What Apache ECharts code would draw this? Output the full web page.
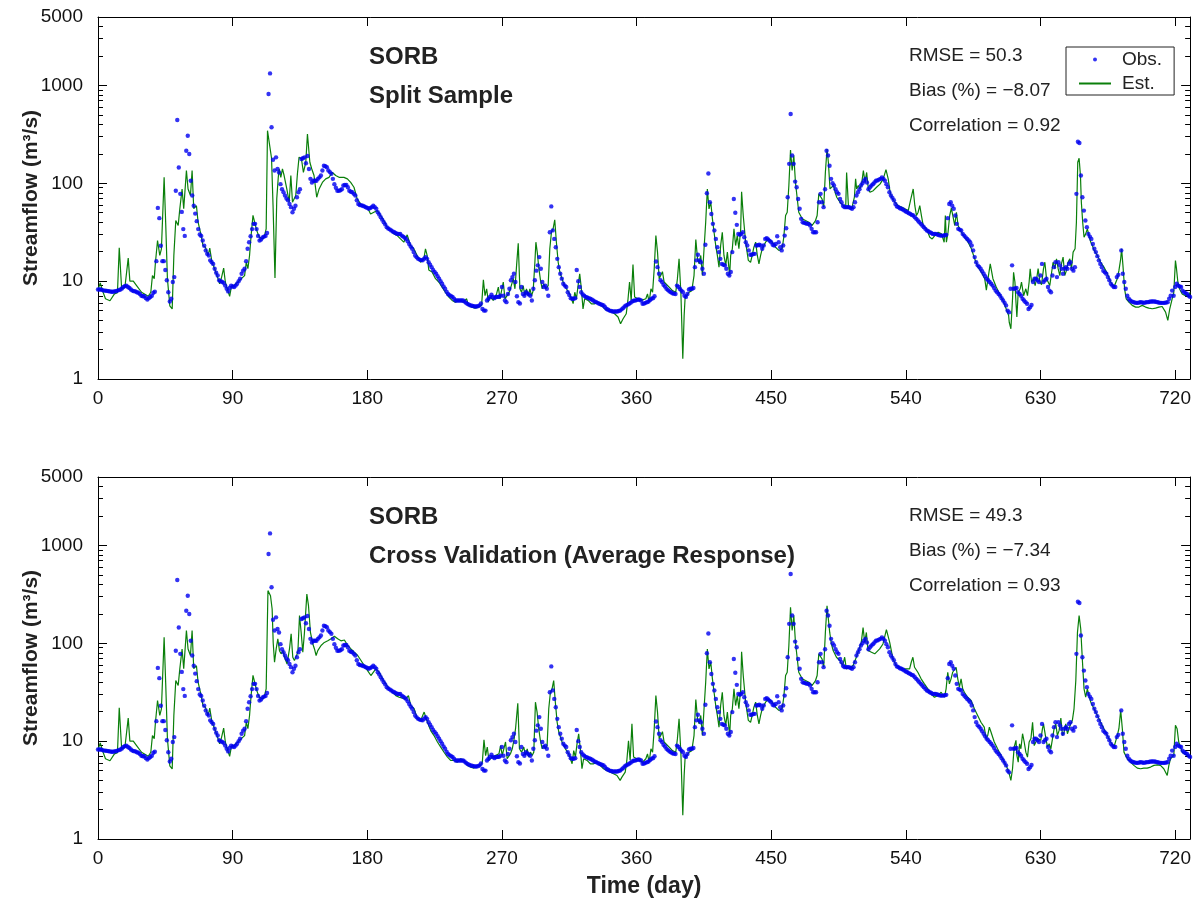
<!DOCTYPE html>
<html>
<head>
<meta charset="utf-8">
<script src="https://cdn.jsdelivr.net/npm/echarts@6/dist/echarts.min.js"></script>
<style>html,body{margin:0;padding:0;background:#fff}#chart{width:1194px;height:904px}</style>
</head>
<body>
<div id="chart"></div>
<script>
// ---- tick labels ----
const xTicks = [0, 90, 180, 270, 360, 450, 540, 630, 720];
const yMajor = [1, 10, 100, 1000];
const yLabels = [1, 10, 100, 1000, 5000];
const yMinor = [2,3,4,5,6,7,8,9,20,30,40,50,60,70,80,90,200,300,400,500,600,700,800,900,2000,3000,4000];

// ---- observed streamflow (day, m3/s) ----
const observed = [[0,8.2],[1,8.2],[2,8.2],[3,8.1],[4,8.0],[5,8.0],[6,7.95],[7,7.9],[8,7.85],[9,7.8],[10,7.8],[11,7.85],[12,7.9],[13,8.0],[14,8.1],[15,8.2],[16,8.4],[17,8.7],[18,8.9],[19,9.0],[20,8.7],[21,8.5],[22,8.2],[23,8.0],[24,7.9],[25,7.85],[26,7.7],[27,7.6],[28,7.4],[29,7.1],[30,7.0],[31,7.0],[32,6.7],[33,6.5],[34,6.7],[35,6.9],[36,7.1],[37,7.6],[38,7.8],[39,16],[40,56],[41,44],[42,23],[43,16],[44,16],[45,13],[46,10.2],[47,7.7],[48,6.2],[49,6.6],[50,9.8],[51,11],[52,84],[53,443],[54,145],[55,78],[56,51],[57,34],[58,29],[59,215],[60,306],[61,199],[62,106],[63,75],[64,59],[65,49],[66,41],[67,34],[68,30],[69,29],[70,26],[71,23],[72,20.6],[73,19],[74,18.3],[75,16.3],[76,15.6],[77,15],[78,13.4],[79,12.2],[80,11.4],[81,10.2],[82,10],[83,9.8],[84,9.6],[85,9],[86,8.35],[87,7.85],[88,8.5],[89,9.0],[90,8.8],[91,8.7],[92,9.0],[93,9.4],[94,10],[95,10.6],[96,11.9],[97,12.8],[98,13.4],[99,16],[100,21.4],[101,25],[102,28.8],[103,34],[104,38.5],[105,38.5],[106,34],[107,29],[108,26],[109,26.6],[110,28],[111,28.5],[112,29],[113,31],[114,816],[115,1326],[116,373],[117,174],[118,135],[119,184],[120,140],[121,129],[122,98],[123,87],[124,81],[125,75],[126,70],[127,67],[128,61.5],[129,57],[130,50.6],[131,55],[132,59],[133,72],[134,81],[135,87],[136,177],[137,180],[138,184],[139,160],[140,190],[141,140],[142,111],[143,102],[144,106],[145,106],[146,106],[147,111],[148,115],[149,120],[150,135],[151,151],[152,149],[153,146],[154,135],[155,130],[156,125],[157,111],[158,98],[159,90],[160,84],[161,84],[162,85],[163,87],[164,95],[165,96],[166,96],[167,91],[168,84],[169,82],[170,81],[171,78],[172,75],[173,67],[174,61.5],[175,60],[176,59.5],[177,59],[178,58],[179,57],[180,56],[181,55],[182,56],[183,57],[184,59],[185,57],[186,55],[187,50.6],[188,48],[189,45],[190,42.5],[191,40],[192,38],[193,35.6],[194,34.5],[195,33.8],[196,33],[197,32.2],[198,31.6],[199,31],[200,30.4],[201,30.4],[202,30.4],[203,29.2],[204,28.5],[205,27.8],[206,27],[207,25.5],[208,24],[209,22.6],[210,21.4],[211,19.8],[212,18.3],[213,17.5],[214,16.9],[215,16.6],[216,16.4],[217,16.3],[218,17],[219,17.6],[220,16.9],[221,15.6],[222,14.7],[223,13.9],[224,13],[225,12.4],[226,11.9],[227,11.2],[228,10.6],[229,10],[230,9.4],[231,8.8],[232,8.35],[233,7.8],[234,7.4],[235,7.2],[236,7.0],[237,6.9],[238,6.6],[239,6.35],[240,6.35],[241,6.35],
[242,6.35],[243,6.35],[244,6.35],[245,6.2],[246,6.0],[247,5.85],[248,5.75],[249,5.65],[250,5.6],[251,5.56],[252,5.5],[253,5.5],[254,5.55],[255,5.65],[256,5.9],[257,5.2],[258,5.0],[259,5.0],[260,6.35],[261,6.6],[262,6.9],[263,7.25],[264,6.9],[265,6.7],[266,6.9],[267,6.9],[268,6.9],[269,7.1],[270,8.7],[271,7.1],[272,6.35],[273,6.1],[274,7.4],[275,8.35],[276,10.2],[277,11],[278,11.9],[279,9.8],[280,7.0],[281,6.1],[282,5.9],[283,8.7],[284,7.4],[285,7.1],[286,7.7],[287,7.5],[288,7.3],[289,7.1],[290,6.35],[291,8.35],[292,10.2],[293,12.8],[294,14.5],[295,17.6],[296,13.4],[297,9.8],[298,8.7],[299,9.0],[300,8.35],[301,7.1],[302,31.6],[303,58],[304,33],[305,27],[306,22.2],[307,16.9],[308,13.9],[309,11.9],[310,10.6],[311,9.4],[312,9.0],[313,8.7],[314,7.7],[315,7.2],[316,6.7],[317,6.6],[318,6.6],[319,6.7],[320,13],[321,10],[322,8.7],[323,7.7],[324,7.3],[325,7.1],[326,6.9],[327,6.8],[328,6.7],[329,6.6],[330,6.5],[331,6.35],[332,6.2],[333,6.1],[334,6.0],[335,5.87],[336,5.8],[337,5.7],[338,5.65],[339,5.4],[340,5.2],[341,5.1],[342,5.0],[343,4.95],[344,4.9],[345,4.9],[346,4.9],[347,4.9],[348,4.95],[349,5.0],[350,5.15],[351,5.3],[352,5.5],[353,5.65],[354,5.75],[355,5.87],[356,6.0],[357,6.2],[358,6.3],[359,6.35],[360,6.4],[361,6.5],[362,6.45],[363,6.35],
[364,5.87],[365,5.9],[366,6.0],[367,6.1],[368,6.2],[369,6.4],[370,6.6],[371,6.7],[372,7.0],[373,15.9],[374,13.9],[375,11.9],[376,10.2],[377,9.8],[378,9.2],[379,8.8],[380,8.35],[381,8.1],[382,7.85],[383,7.7],[384,7.5],[385,7.45],[386,7.4],[387,9.0],[388,8.7],[389,8.3],[390,8.0],[391,7.7],[392,7.1],[393,6.9],[394,7.4],[395,8.2],[396,8.35],[397,8.35],[398,8.5],[399,13.9],[400,16.3],[401,18.6],[402,16.3],[403,15.6],[404,13.4],[405,11.9],[406,23.5],[407,79],[408,126],[409,64],[410,48.6],[411,38.5],[412,33],[413,27],[414,22.2],[415,19.8],[416,16.9],[417,15],[418,14.7],[419,14.5],[420,13.4],[421,11.9],[422,11.4],[423,12.4],[424,19.8],[425,69],[426,50],[427,37.6],[428,30.4],[429,29.7],[430,30.4],[431,31.6],[432,28.1],[433,25],[434,23.1],[435,20.6],[436,18.6],[437,18.6],[438,19],[439,19],[440,23.1],[441,23.3],[442,23.5],[443,23.1],[444,21.4],[445,23.1],[446,27],[447,27.5],[448,26.6],[449,25.8],[450,25],[451,23.5],[452,23.1],[453,24],[454,28.8],[455,25],[456,22.2],[457,20.6],[458,23.1],[459,29.2],[460,34.7],[461,72],[462,158],[463,510],[464,192],[465,158],[466,104],[467,91],[468,69],[469,55],[470,43.3],[471,40],[472,39.4],[473,39],[474,38.5],[475,38.5],[476,37],[477,34.2],[478,31.6],[479,31.6],[480,31.6],[481,40],[482,64],[483,78],[484,64],[485,57],[486,87],
[487,215],[488,192],[489,151],[490,111],[491,100],[492,95],[493,87],[494,81],[495,78],[496,69],[497,64],[498,59],[499,57],[500,57],[501,57],[502,57],[503,56],[504,55],[505,57],[506,64],[507,75],[508,81],[509,87],[510,95],[511,100],[512,106],[513,111],[514,102],[515,87],[516,91],[517,95],[518,98],[519,102],[520,106],[521,107],[522,109],[523,111],[524,115],[525,111],[526,106],[527,98],[528,91],[529,81],[530,75],[531,71],[532,67],[533,61.5],[534,58],[535,57],[536,55.6],[537,55],[538,54],[539,52.6],[540,51.4],[541,50.6],[542,49.5],[543,48.6],[544,47.5],[545,46.8],[546,45],[547,43.3],[548,41.6],[549,40],[550,38.5],[551,37],[552,35.6],[553,34.2],[554,33],[555,32.3],[556,31.6],[557,31],[558,30.4],[559,30.4],[560,30.4],[561,30],[562,29.6],[563,29.2],[564,29.2],[565,29.2],[566,29.4],[567,29.7],[568,44],[569,61.5],[570,64],[571,59],[572,55],[573,46.8],[574,38.5],[575,34.2],[576,33.6],[577,33],[578,30.4],[579,29.2],[580,28],[581,27],[582,26],[583,25],[584,23.1],[585,20.6],[586,17.6],[587,15.6],[588,14.5],[589,14],[590,13.4],[591,12.6],[592,11.9],[593,11.2],[594,10.6],[595,10.2],[596,9.8],[597,9.4],[598,9.0],[599,8.5],[600,8.0],[601,7.7],[602,7.4],[603,7.1],[604,6.7],[605,6.35],[606,6.0],[607,5.65],
[608,5.0],[609,4.8],[610,8.35],[611,14.5],[612,8.35],[613,8.4],[614,8.5],[615,7.7],[616,7.4],[617,7.1],[618,6.6],[619,6.35],[620,6.1],[621,5.87],[622,5.2],[623,5.4],[624,5.7],[625,9.8],[626,10.6],[627,10.6],[628,10.2],[629,9.8],[630,11.4],[631,15],[632,9.8],[633,10.2],[634,10.6],[635,8.7],[636,8.0],[637,7.7],[638,11.4],[639,13.9],[640,15.6],[641,11],[642,15.6],[643,14.5],[644,13.4],[645,11.9],[646,13.4],[647,13.9],[648,13.4],[649,15],[650,15.6],[651,13.4],[652,12.8],[653,13.9],[654,78],[655,266],[656,258],[657,120],[658,72],[659,52.6],[660,41.6],[661,35.6],[662,30.4],[663,28.5],[664,27],[665,24],[666,21.4],[667,19.8],[668,18],[669,16.3],[670,15],[671,13.9],[672,12.8],[673,12.3],[674,11.9],[675,11],[676,10.2],[677,9.4],[678,9.0],[679,8.7],[680,8.7],[681,11],[682,11.6],[684,20.6],[685,11.9],[686,9.8],[687,8.35],[688,7.1],[689,6.6],[690,6.35],[691,6.2],[692,6.1],[693,6.05],[694,6.0],[695,6.0],[696,6.05],[697,6.1],[698,6.05],[699,6.0],[700,6.05],[701,6.1],[702,6.1],[703,6.15],[704,6.2],[705,6.2],[706,6.2],[707,6.15],[708,6.1],[709,6.05],[710,6.0],[711,6.0],[712,6.0],[713,6.0],[714,6.05],[715,6.1],[716,6.6],[717,7.1],[718,8.0],[719,7.1],[720,8.7],[721,9.4],[722,9.0],[723,8.85],[724,8.7],[725,8.0],[726,7.7],[727,7.55],[728,7.4],[729,7.1],[730,6.9]];

// ---- estimated streamflow, split sample (day, m3/s) ----
const estSplit = [[0,8.2],[1.5,9.6],[3,8.0],[5,6.6],[8,6.3],[11,7.4],[13,7.6],[14.2,21.9],[15.8,8.35],[18,8.7],[20.2,17.2],[21.3,10],[23.6,10],[25.8,9.0],[29.1,7.7],[33.6,7.0],[35.3,7.7],[36.4,11.4],[37.6,10.6],[38.4,15.6],[39.8,26],[41.3,18.3],[42.4,21.4],[44.2,115],[45.3,37],[46.4,10.6],[48,5.6],[49.6,5.2],[50.7,18.3],[52,41.6],[53.6,37],[54.7,55],[56.2,87.5],[57.3,55],[59.1,135],[60.2,87.5],[61.8,75],[62.9,135],[64,55],[65.8,59],[66.9,40],[68.7,30.4],[70.2,23.1],[71.8,22.2],[73.6,18.3],[74.7,21.7],[76.2,15.6],[78,13.4],[80.2,10.6],[81.3,9.4],[82.4,10.6],[84,13.6],[85.1,9.8],[86.4,8.35],[88,7.0],[89.1,8.7],[91.3,9.2],[93.6,9.8],[95.8,10.6],[98,11.4],[99.1,15.6],[100.2,13.4],[101.3,18.3],[102.4,30],[103.6,47],[104.7,40],[105.8,34.2],[106.9,30.4],[108,28],[110.2,27],[111.3,29.2],[112.4,34.2],[113.3,345],[114.5,330],[116,180],[117,60],[118.3,10.8],[119.5,70],[120.5,115],[121.1,140],[122.2,115],[123.3,140],[124.4,120],[126.2,87.5],[127.8,64],[128.9,120],[130,64],[132.2,75],[133.3,125],[134.4,185],[136,177],[137.3,129],[138.9,164],[140,319],[141.6,164],[142.9,140],[144.4,120],[146.2,72],[147.8,87.5],[150,102],[152.2,111],[154.4,115],[156.7,129],[158.9,120],[161.1,115],[164.4,115],[166.7,111],[168.9,102],[171.1,91],[173.3,69],[175.6,61.5],[177.8,59],[180,57],[182.2,48.6],[184.4,50.6],[186.7,52.6],[188.9,46.8],[191.1,41.6],[193.3,35.6],[195.6,33],[197.8,30.4],[200,29.2],[202.2,27],[204.4,25],[206.7,29.7],[207.8,26],[208.9,23.1],[211.1,21.4],[213.3,18.3],[215.6,15.6],[217.8,16.9],[218.9,21.4],[220,18.3],[221.1,13],[223.3,12.4],[225.6,10.6],[227.8,9.8],[230,8.7],[232.2,7.7],[234.4,6.9],[236.7,6.35],[238.9,6.1],[241.1,6.35],
[244.2,6.1],[246.4,6.6],[247.6,5.65],[249.8,5.43],[252,5.3],[254.2,5.43],[256.4,5.65],[257.6,10.3],[258.7,7.1],[259.8,8.35],[260.9,6.1],[262,6.9],[264.2,6.35],[266.4,7.4],[267.6,8.7],[268.7,6.6],[269.8,6.9],[270.9,9.8],[272,6.6],[274.2,7.4],[275.3,8.0],[276.4,7.7],[277.6,10.6],[278.7,8.35],[279.8,14.5],[280.9,24.4],[282,8.35],[283.1,7.7],[284.2,9.0],[285.3,7.1],[286.4,8.35],[287.6,7.1],[288.7,8.35],[289.8,7.1],[290.9,8.0],[292,15.3],[292.7,25],[293.6,19.8],[294.7,13.4],[295.8,10.2],[296.9,8.35],[298,9.4],[299.3,8.35],[300.9,9.0],[302,21.4],[303.1,31.6],[304.2,34.2],[305.3,42.3],[306.4,25],[307.6,15.6],[308.7,12.4],[310.9,9.8],[313.1,8.35],[315.3,7.4],[317.6,5.9],[318.7,7.7],[319.8,6.6],[320.9,9.0],[322,11.9],[323.1,8.35],[324.2,5.2],[325.3,6.6],[327.6,6.35],[329.8,5.87],[332,5.87],[334.2,6.1],[336.4,5.65],[338.7,5.2],[340.9,5.0],[343.1,4.9],[345.3,4.64],[347.6,4.3],[349.3,3.67],[350.9,4.1],[353.1,4.64],[354.2,6.35],[355.3,9.8],[356.4,6.35],[357.6,14.8],[358.7,6.87],[360.9,6.6],[363.1,6.35],
[364,6.1],[366.2,6.6],[367.3,7.4],[368.4,6.1],[369.6,8.35],[370.7,7.7],[371.8,13.4],[372.9,29.2],[374,19.8],[375.1,10.6],[376.2,10.2],[377.3,12.5],[378.4,9.8],[379.6,9.4],[381.8,8.7],[384,8.0],[386.2,7.7],[387.3,10.6],[388.4,16.9],[389.6,7.7],[390.2,3.8],[390.9,1.61],[391.8,4.46],[392.4,6.6],[393.6,7.14],[395.1,7.7],[396.9,8.0],[398.4,11.4],[399.6,26.6],[400.7,17.2],[401.8,15],[402.9,18.3],[404,11.4],[405.1,21.4],[406.2,40],[407.3,87.5],[408.4,54.7],[409.6,64],[410.7,43.3],[411.8,31.6],[412.9,23.1],[414,18.3],[415.1,13.9],[416.2,23.1],[417.3,31.6],[418.4,18.3],[419.6,14.5],[420.7,19.8],[422.2,11.4],[422.9,18.3],[424,21.4],[425.1,34.2],[426.2,23.1],[427.3,29.2],[428.4,21.4],[429.6,34.2],[430.2,82],[431.3,46.8],[432.9,25],[434.7,16.3],[436.2,15.6],[437.3,18.3],[438.4,22.2],[439.6,25],[440.7,18.3],[441.8,15],[442.9,18.3],[444,21.4],[446.2,25],[448.4,27],[450.7,25],[452.9,22.2],[455.1,20.6],[457.3,21.4],[458.4,28.1],[459.6,46.8],[460.7,50.6],[461.8,94.7],[462.9,219],[464,135],[465.1,192],[466.2,102],[467.3,72],[468.4,50.6],[470.7,43.3],[472.9,41.6],[475.1,40],[477.3,37],[479.6,41.6],[480.7,46.8],[481.8,78],[484,69],[485.1,57],[486.2,129],[487.3,224],
[488.2,164],[489.3,87.5],[490.4,84],[491.6,95],[492.7,81],[493.8,72],[496,64],[498.2,59],[499.8,57],[500.4,129],[501.6,59],[503.8,55],[505.6,72],[506.4,111],[507.1,87.5],[508.2,95],[509.3,87.5],[510.4,98],[511.6,135],[512.7,102],[513.8,129],[514.9,87.5],[516,81],[518.2,84],[520.4,91],[522.7,98],[524.9,111],[526.7,138],[528.2,111],[529.3,84],[530.4,72],[532.7,64],[534.9,59],[537.1,57],[539.3,55],[541.6,52.6],[543.3,69],[544.9,87.5],[546,59],[547.1,46.8],[548.2,50.6],[549.3,59],[550.4,46.8],[551.6,37],[553.8,34.2],[556,28.1],[557.6,27],[559.3,29.2],[561.6,31.6],[563.8,30.4],[565.6,25],[566.4,46.8],[567.1,25],[568.2,31.6],[569.3,46.8],[570.4,55.6],[571.6,56.9],[572.7,37],[573.8,50.6],[574.9,37],[576,34.2],[577.1,31.6],[579.3,28.1],[581.6,25],[583.8,21.4],[586,16.9],[588.2,13.9],[590.4,12.4],[592.7,10.6],[593.8,8.1],[594.9,10.6],[596.4,15],[598.2,10.6],[600.4,8.7],[602.7,7.4],[604.9,6.35],[607.1,5.2],[608.7,4.46],
[609.1,3.8],[610.2,3.26],[611.3,6.6],[612,12.3],[612.9,9.8],[613.6,6.1],[614.2,4.3],[615.1,7.7],[616.4,8.35],[617.3,9.8],[618.7,7.1],[620.2,8.35],[621.3,7.1],[622.4,9.8],[623.1,13.4],[624,9.8],[625.3,10.6],[626.4,9.0],[627.6,11],[628.4,13.4],[629.6,9.8],[630.7,9.2],[632,13.4],[632.9,15.6],[634,10.6],[635.1,9.8],[636.2,9.0],[637.3,11.9],[638.4,15.6],[639.6,13.4],[640.7,16.9],[641.8,13.4],[642.9,11.4],[644,15],[645.1,17.6],[646.2,11.4],[647.3,12.8],[648.4,15.6],[649.6,16.9],[650.7,13.4],[651.8,19.8],[653.1,21.4],[654,40],[654.9,164],[655.8,180],[656.7,120],[657.3,64],[658.2,40],[659.1,28.1],[660.2,30.4],[661.3,34.2],[662.4,29.2],[663.6,25],[664.7,23.1],[665.8,20.6],[668,18.3],[670.2,15.6],[672.4,13.9],[674.7,11.9],[676.9,9.8],[679.1,8.7],[680.2,8.35],[681.3,10.6],[682.4,12.8],[683.6,16.9],[684.2,21.4],[685.1,14.5],[686.2,8.35],[687.3,6.6],[689.1,6.1],[691.3,5.65],[693.6,5.43],[695.8,5.43],[698,5.65],[700.2,5.43],[702.4,5.3],[704.7,5.22],[706.9,5.3],[709.1,5.43],[711.3,5.51],[712.4,5.65],[713.6,4.83],[715.1,3.97],[716.4,5.22],[718,6.6],[719.1,7.7],[720.2,16.2],[720.9,13.4],[721.8,9.8],[722.9,8.35],[724.7,7.4],[726.9,7.1],[729.1,7.1],[730,7.7]];

// ---- estimated streamflow, cross validation (average response) (day, m3/s) ----
const estCross = [[0,8.2],[1.5,9.6],[3,8.0],[5,6.6],[8,6.3],[11,7.4],[13,7.6],[14.2,21.9],[15.8,8.35],[18,8.7],[20.2,17.2],[21.3,10],[23.6,10],[25.8,9.0],[29.1,7.7],[33.6,7.0],[35.3,7.7],[36.4,11.4],[37.6,10.6],[38.4,15.6],[39.8,26],[41.3,18.3],[42.4,21.4],[44.2,115],[45.3,37],[46.4,10.6],[48,5.6],[49.6,5.2],[50.7,18.3],[52,41.6],[53.6,37],[54.7,55],[56.2,87.5],[57.3,55],[59.1,135],[60.2,87.5],[61.8,75],[62.9,135],[64,55],[65.8,59],[66.9,40],[68.7,30.4],[70.2,23.1],[71.8,22.2],[73.6,18.3],[74.7,21.7],[76.2,15.6],[78,13.4],[80.2,10.6],[81.3,9.4],[82.4,10.6],[84,13.6],[85.1,9.8],[86.4,8.35],[88,7.0],[89.1,8.7],[91.3,9.2],[93.6,9.8],[95.8,10.6],[98,11.4],[99.1,15.6],[100.2,13.4],[101.3,18.3],[102.4,30],[103.6,47],[104.7,40],[105.8,34.2],[106.9,30.4],[108,28],[110.2,27],[111.3,29.2],[112.4,34.2],
[113.6,345],[115.3,306],[116.4,224],[117.1,102],[118,64],[119.1,87.5],[120.2,111],[121.3,84],[122.4,78],[123.6,84],[124.7,72],[126.4,61.5],[128,87.5],[129.1,125],[130.2,72],[131.3,66.6],[133.6,81],[134.7,192],[135.8,129],[136.9,81],[138,129],[139.6,319],[140.7,242],[142,129],[143.6,98.4],[144.7,87.5],[145.8,75],[146.9,84],[149.1,95],[151.3,102],[153.6,106],[155.8,111],[158,118],[160.2,111],[162.4,106],[164.7,108],[166.9,95],[169.1,87.5],[171.3,81],[173.6,75],[175.8,66.6],[178,59],[180.2,52.6],[182.4,46.8],[183.5,46.8],[185.7,54.7],[188,50.6],[190.2,43.3],[192.4,38.5],[194.6,34.2],[196.9,31.6],[199.1,29.2],[201.3,28.1],[203.5,27.5],[205.7,27],[207.5,29.2],[209.1,23.1],[211.3,21.4],[213.5,16.9],[215.7,16.3],[218,19.8],[220.2,15.6],[222.4,12.8],[224.6,11.4],[226.9,9.8],[229.1,8.7],[231.3,7.7],[233.5,6.9],[235.7,6.35],[238,6.35],[240.2,6.1],[242.4,6.6],[244.6,6.35],[246.9,5.65],[249.1,5.43],[251.3,5.3],[253.5,5.65],[255.7,5.65],[256.9,6.1],[258,10.3],[259.1,7.1],[260.2,8.7],[261.3,6.35],[263.5,6.87],[265.7,7.14],[268,7.43],[269.1,9.0],[270.2,7.14],[271.3,6.87],[272.4,9.8],[273.5,6.6],[275.7,7.43],[276.9,8.35],[278,10.2],[279.1,13.4],[280.6,24.4],[281.7,8.35],[283.1,7.72],[284.6,8.69],[285.7,7.14],[286.9,8.35],[288,6.87],[289.1,7.72],[290.2,7.14],[291.3,7.72],[292.4,25],[293.5,19.8],[294.6,13.4],[295.7,10.2],[296.9,8.35],[298,9.0],[299.1,8.35],[300.2,9.0],[301.3,21.4],[302.4,31.6],[303.5,34.2],[304.6,41.6],[305.7,25],[306.9,15.6],[308,12.4],[310.2,9.8],[312.4,8.35],[314.6,7.43],[316.9,5.87],[318,8.0],[319.1,6.87],[320.2,9.39],[321.3,11.9],[322.4,8.35],[323.5,5.22],[324.6,6.6],[326.9,6.35],[329.1,5.87],[331.3,5.87],[333.5,6.1],[335.7,5.65],[337.9,5.22],[340.2,5.0],[342.4,4.83],[344.6,4.64],[346.9,4.46],[349,3.97],[350.2,4.29],[352.4,4.83],[353.5,6.35],[354.6,10.1],[355.7,6.35],[356.9,15],[358,6.87],[360.2,6.6],[362.4,6.35],
[364,6.1],[366.2,6.6],[367.3,7.4],[368.4,6.1],[369.6,8.35],[370.7,7.7],[371.8,13.4],[372.9,29.2],[374,19.8],[375.1,10.6],[376.2,10.2],[377.3,12.5],[378.4,9.8],[379.6,9.4],[381.8,8.7],[384,8.0],[386.2,7.7],[387.3,10.6],[388.4,16.9],[389.6,7.7],[390.2,3.9],[390.9,1.75],[391.8,4.46],[392.4,6.6],[393.6,7.14],[395.1,7.7],[396.9,8.0],[398.4,11.4],[399.6,26.6],[400.7,17.2],[401.8,15],[402.9,18.3],[404,11.4],[405.1,21.4],[406.2,40],[407.3,87.5],[408.4,54.7],[409.6,64],[410.7,43.3],[411.8,31.6],[412.9,23.1],[414,18.3],[415.1,13.9],[416.2,23.1],[417.3,31.6],[418.4,18.3],[419.6,14.5],[420.7,19.8],[422.2,11.4],[422.9,18.3],[424,21.4],[425.1,34.2],[426.2,23.1],[427.3,29.2],[428.4,21.4],[429.6,34.2],[430.2,82],[431.3,46.8],[432.9,25],[434.7,16.3],[436.2,15.6],[437.3,18.3],[438.4,22.2],[439.6,25],[440.7,18.3],[441.8,15],[442.9,18.3],[444,21.4],[446.2,25],[448.4,27],[450.7,25],[452.9,22.2],[455.1,20.6],[457.3,21.4],[458.4,28.1],[459.6,46.8],[460.7,50.6],[461.8,94.7],[462.9,233],[464,135],[465.1,192],[466.2,102],[467.3,72],[468.4,50.6],[470.7,43.3],[472.9,41.6],[475.1,40],[477.3,37],[479.6,41.6],[480.7,46.8],[481.8,78],[484,69],[485.1,57],[486.2,129],[487.3,242],
[489.1,129],[490.2,98.4],[491.4,84.2],[493.6,72],[495.8,66.6],[497.8,59.2],[499.1,72],[500.2,54.7],[502.5,56.9],[504.7,59.2],[505.8,56.9],[506.9,72],[508,81],[509.1,84.2],[510.2,102],[511.4,145],[512.5,102],[513.6,129],[514.7,84.2],[517,81],[519.2,78],[522.5,87.5],[524.7,98.4],[527,138],[529.2,102],[531.4,69],[533.6,59],[538,54.7],[542.5,54.7],[543.6,64],[544.7,72],[545.8,56.9],[548,50.6],[550.2,43.3],[552.4,38.5],[554.7,34.2],[556.9,30.4],[559.1,28.1],[561.3,29.2],[563.6,31.6],[565.8,28.1],[566.9,34.2],[568,50.6],[569.1,38.5],[570.2,43.3],[571.3,50.6],[572.4,50.6],[573.6,56.9],[574.7,43.3],[575.8,35.6],[576.9,43.3],[578,34.2],[579.1,31.6],[581.3,28.1],[583.6,26],[585.8,21.4],[588,18.3],[590.2,15.6],[592.4,13.9],[593.6,10.6],[594.7,11.4],[595.8,13.9],[596.9,12.4],[599.1,9.8],[601.3,8.35],[603.6,7.14],[605.8,6.11],[608,5.22],[609.1,4.64],[610.2,3.97],[611.3,5.22],[612.4,8.69],[613.6,10.2],[614.2,7.14],[615.1,6.1],[616,9.39],[616.9,8.35],[618,11.9],[619.1,9.8],[620.2,7.72],[621.3,6.87],[622.4,9.8],[623.6,10.6],[624.7,15.6],[625.8,9.0],[626.9,9.8],[628,10.6],[629.1,10.6],[630.2,10.2],[631.3,13.4],[632,15],[633.6,10.6],[634.7,8.69],[635.8,9.39],[636.9,8.35],[639.1,13.4],[640.2,15],[641.3,11.4],[642.4,12.8],[643.6,17.2],[644.7,11.4],[645.8,12.4],[646.9,15],[648,11.9],[649.1,13.4],[650.2,15],[651.3,16.3],[652.4,21.4],[653.6,41.6],[654.7,129],[655.8,192],[656.9,140],[658,66.6],[659.1,34.2],[660.2,28.1],[661.3,34.2],[662.4,29.2],[663.6,25],[665.8,21.4],[668,18.3],[670.2,15.6],[672.4,13.4],[674.7,11.4],[676.9,9.8],[679.1,8.69],[680.2,8.35],[681.3,11.4],[682.4,13.4],[683.6,20.6],[684.7,13.4],[685.8,7.72],[688,6.6],[690.2,6.1],[692.4,5.65],[694.7,5.3],[696.9,5.22],[699.1,5.3],[701.3,5.3],[703.6,5.43],[705.8,5.65],[708,5.73],[710.2,5.65],[712.4,5.22],[714.7,4.46],[715.8,5.65],[716.9,6.6],[719.1,7.14],[720.2,14.5],[721.3,13.4],[722.4,9.8],[724.7,7.72],[728,7.14],[730,6.87]];

// ---- texts ----
const panelTitles = [['SORB', 'Split Sample'], ['SORB', 'Cross Validation (Average Response)']];
const panelStats = [
  ['RMSE = 50.3', 'Bias (%) = \u22128.07', 'Correlation = 0.92'],
  ['RMSE = 49.3', 'Bias (%) = \u22127.34', 'Correlation = 0.93']
];

const FONT = 'Liberation Sans, Arial, Helvetica, sans-serif';
const BLUE = '#0000f0';
const GREEN = '#0a7f0a';
const grids = [{top: 17, height: 362}, {top: 477, height: 362}];

const chart = echarts.init(document.getElementById('chart'), null, {renderer: 'canvas'});

const xAxes = [], yAxes = [], series = [], graphics = [];
grids.forEach((g, gi) => {
  const base = {
    type: 'value', gridIndex: gi, min: 0, max: 730, interval: 90,
    axisLine: {show: true, lineStyle: {color: '#000', width: 1}},
    axisTick: {show: true, inside: true, length: 9, lineStyle: {color: '#000'}, customValues: xTicks},
    splitLine: {show: false}
  };
  xAxes.push(Object.assign({}, base, {
    position: 'bottom',
    axisLabel: {show: true, customValues: xTicks, fontSize: 19, fontFamily: FONT, color: '#111', margin: 10},
    name: gi === 1 ? 'Time (day)' : '',
    nameLocation: 'middle', nameGap: 36, nameMoveOverlap: false,
    nameTextStyle: {fontSize: 23, fontWeight: 'bold', fontFamily: FONT, color: '#222'}
  }));
  xAxes.push(Object.assign({}, base, {position: 'top', axisLabel: {show: false}}));

  const yb = {type: 'log', logBase: 10, gridIndex: gi, min: 1, max: 5000, splitLine: {show: false}};
  yAxes.push(Object.assign({}, yb, {
    position: 'left',
    axisLine: {show: true, lineStyle: {color: '#000'}},
    axisTick: {show: true, inside: true, length: 9, customValues: yMajor, lineStyle: {color: '#000'}},
    axisLabel: {show: true, customValues: yLabels, fontSize: 19, fontFamily: FONT, color: '#111', margin: 15,
                formatter: v => String(Math.round(v))},
    name: 'Streamflow (m\u00b3/s)', nameLocation: 'middle', nameGap: 56, nameRotate: 90, nameMoveOverlap: false,
    nameTextStyle: {fontSize: 21, fontWeight: 'bold', fontFamily: FONT, color: '#222'}
  }));
  yAxes.push(Object.assign({}, yb, {
    position: 'left', axisLine: {show: false}, axisLabel: {show: false},
    axisTick: {show: true, inside: true, length: 5, customValues: yMinor, lineStyle: {color: '#000'}}
  }));
  yAxes.push(Object.assign({}, yb, {
    position: 'right', axisLine: {show: true, lineStyle: {color: '#000'}}, axisLabel: {show: false},
    axisTick: {show: true, inside: true, length: 9, customValues: yMajor, lineStyle: {color: '#000'}}
  }));
  yAxes.push(Object.assign({}, yb, {
    position: 'right', axisLine: {show: false}, axisLabel: {show: false},
    axisTick: {show: true, inside: true, length: 5, customValues: yMinor, lineStyle: {color: '#000'}}
  }));

  const est = gi === 0 ? estSplit : estCross;
  series.push({
    name: 'Est.', type: 'line', xAxisIndex: gi * 2, yAxisIndex: gi * 4,
    data: est, symbol: 'none', showSymbol: false, smooth: false,
    lineStyle: {color: GREEN, width: 1.2}, itemStyle: {color: GREEN}, z: 2, silent: true
  });
  series.push({
    name: 'Obs.', type: 'scatter', xAxisIndex: gi * 2, yAxisIndex: gi * 4,
    data: observed, symbol: 'circle', symbolSize: 4.4,
    itemStyle: {color: BLUE}, z: 3, silent: true
  });

  const gy = g.top;
  graphics.push({type: 'text', x: 369, y: gy + 40, style: {text: panelTitles[gi][0], fontSize: 24, fontWeight: 'bold', fontFamily: FONT, fill: '#222', verticalAlign: 'middle'}});
  graphics.push({type: 'text', x: 369, y: gy + 79, style: {text: panelTitles[gi][1], fontSize: 24, fontWeight: 'bold', fontFamily: FONT, fill: '#222', verticalAlign: 'middle'}});
  panelStats[gi].forEach((t, k) => {
    graphics.push({type: 'text', x: 909, y: gy + 39 + k * 35, style: {text: t, fontSize: 19, fontFamily: FONT, fill: '#222', verticalAlign: 'middle'}});
  });
});

chart.setOption({
  animation: false,
  backgroundColor: '#fff',
  grid: grids.map(g => ({left: 98, width: 1095, top: g.top, height: g.height, show: false})),
  xAxis: xAxes,
  yAxis: yAxes,
  legend: {
    show: true,
    data: [{name: 'Obs.'}, {name: 'Est.', itemStyle: {opacity: 0}}],
    orient: 'vertical', left: 1066, top: 47,
    itemWidth: 32, itemHeight: 4, itemGap: 5, padding: [3, 12, 2, 12],
    borderColor: '#222', borderWidth: 1, backgroundColor: '#fff',
    textStyle: {fontSize: 19, fontFamily: FONT, color: '#222', padding: [0, 0, 0, 6]},
    selectedMode: false
  },
  series: series,
  graphic: graphics
});
</script>
</body>
</html>
